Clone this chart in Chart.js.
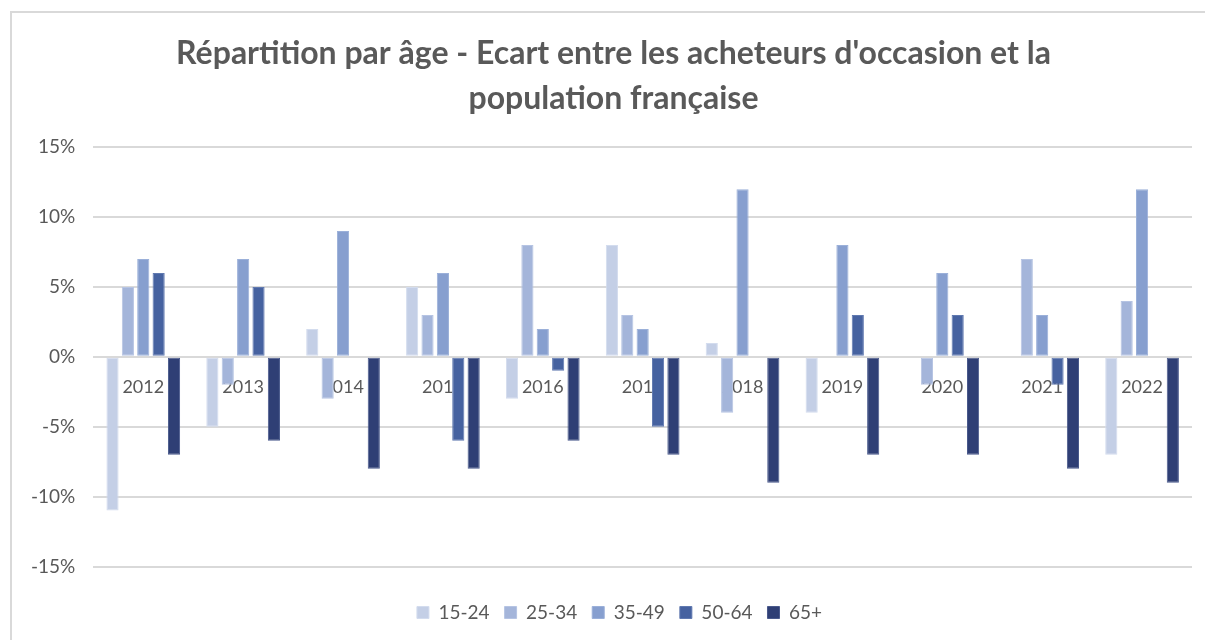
<!DOCTYPE html>
<html>
<head>
<meta charset="utf-8">
<script src="https://cdn.jsdelivr.net/npm/chart.js@4.4.1/dist/chart.umd.min.js"></script>
<style>
  html, body { margin: 0; padding: 0; background: #fff; overflow: hidden; }
  #wrap {
    position: absolute; left: 10px; top: 11px; width: 1200px; height: 640px;
    border-left: 2px solid #d9d9d9; border-top: 2px solid #d9d9d9; box-sizing: border-box;
  }
</style>
</head>
<body>
<div id="wrap"><canvas id="chart"></canvas></div>
<script>
const years = ['2012', '2013', '2014', '2015', '2016', '2017', '2018', '2019', '2020', '2021', '2022'];
const age15_24 = [-11, -5, 2, 5, -3, 8, 1, -4, 0, 0, -7];
const age25_34 = [5, -2, -3, 3, 8, 3, -4, 0, -2, 7, 4];
const age35_49 = [7, 7, 9, 6, 2, 2, 12, 8, 6, 3, 12];
const age50_64 = [6, 5, 0, -6, -1, -5, 0, 3, 3, -2, 0];
const age65plus = [-7, -6, -8, -8, -6, -7, -9, -7, -7, -8, -9];
const yTicks = [-15, -10, -5, 0, 5, 10, 15];

const seriesLabels = ['15-24', '25-34', '35-49', '50-64', '65+'];
const seriesData = [age15_24, age25_34, age35_49, age50_64, age65plus];
const colors = ['#c4cfe6', '#a4b5da', '#879fcf', '#4662a0', '#2f3f75'];
const edges = ['#d3dcee', '#b6c4e3', '#9bb0d9', '#6079b0', '#4a5a8c'];

const font = 'Lato, "Open Sans", sans-serif';
const grey = '#595959';

const datasets = seriesData.map((d, i) => ({
    label: seriesLabels[i],
    data: d,
    backgroundColor: colors[i],
    borderColor: edges[i],
    borderWidth: 1,
    borderSkipped: false,
    categoryPercentage: 0.77,
    barPercentage: 0.79
}));

// title and legend sit a bit right of the canvas centre in the original
const nudgeBlocks = {
    id: 'nudgeBlocks',
    afterLayout(chart) {
        if (chart.titleBlock) chart.titleBlock.left += 22;
        if (chart.legend) chart.legend.left += 34;
    }
};

const ctx = document.getElementById('chart').getContext('2d');
new Chart(ctx, {
    type: 'bar',
    data: { labels: years, datasets: datasets },
    plugins: [nudgeBlocks],
    options: {
        responsive: true,
        maintainAspectRatio: false,
        animation: false,
        layout: { padding: { left: 1, right: 18, top: 16, bottom: 19 } },
        plugins: {
            title: {
                display: true,
                text: ["Répartition par âge - Ecart entre les acheteurs d'occasion et la", 'population française'],
                color: grey,
                font: { family: font, size: 32, weight: 'bold', lineHeight: 1.41 },
                padding: { top: 2, bottom: 26 }
            },
            // empty block: gap between plot and legend
            subtitle: {
                display: true,
                position: 'bottom',
                weight: 500,
                text: ' ',
                font: { size: 1, lineHeight: 1.5 },
                padding: { top: 0, bottom: 20 }
            },
            legend: {
                position: 'bottom',
                labels: {
                    color: grey,
                    font: { family: font, size: 19 },
                    boxWidth: 12,
                    boxHeight: 12,
                    padding: 15
                }
            },
            tooltip: { enabled: false }
        },
        scales: {
            x: {
                position: { y: 0 },
                z: 1,
                grid: { display: false, drawTicks: false },
                border: { display: false },
                ticks: { color: grey, font: { family: font, size: 18 }, padding: 20 }
            },
            y: {
                min: -15,
                max: 15,
                afterBuildTicks: (axis) => { axis.ticks = yTicks.map(v => ({ value: v })); },
                grid: { color: '#d9d9d9', lineWidth: 2, drawTicks: false },
                border: { display: false },
                ticks: {
                    color: grey,
                    font: { family: font, size: 19 },
                    padding: 18,
                    callback: (v) => v + '%'
                }
            }
        }
    }
});
</script>
</body>
</html>
